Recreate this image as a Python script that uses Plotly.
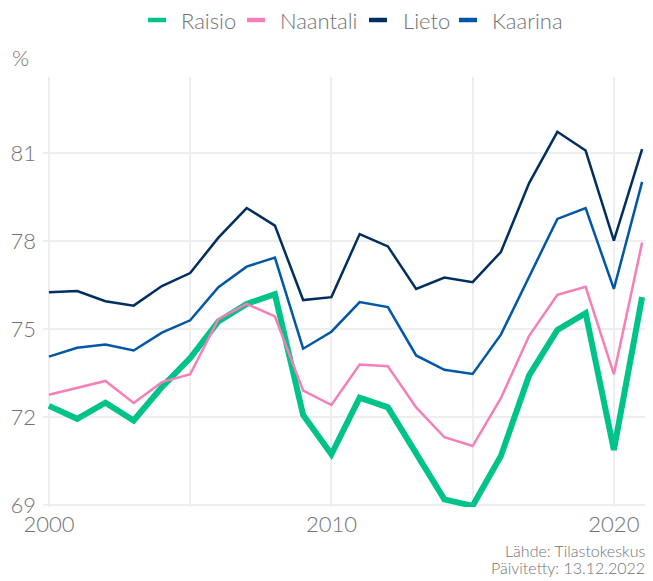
import plotly.graph_objects as go

# Data
years = list(range(2000, 2022))

raisio = [72.38, 71.94, 72.49, 71.88, 73.02, 74.01, 75.26, 75.86, 76.19, 72.07, 70.73,
          72.66, 72.33, 70.76, 69.19, 68.97, 70.67, 73.42, 74.97, 75.54, 70.88, 76.09]
naantali = [72.76, 73.00, 73.23, 72.48, 73.19, 73.46, 75.34, 75.86, 75.43, 72.90, 72.41,
            73.79, 73.73, 72.33, 71.31, 71.01, 72.64, 74.77, 76.17, 76.44, 73.46, 77.95]
lieto = [76.26, 76.30, 75.95, 75.80, 76.47, 76.91, 78.12, 79.13, 78.53, 75.99, 76.09,
         78.24, 77.82, 76.37, 76.76, 76.60, 77.63, 79.98, 81.73, 81.09, 78.02, 81.14]
kaarina = [74.06, 74.36, 74.47, 74.27, 74.88, 75.30, 76.43, 77.13, 77.44, 74.33, 74.91,
           75.92, 75.75, 74.10, 73.61, 73.47, 74.81, 76.79, 78.76, 79.13, 76.37, 80.02]

series = [
    ("Raisio", raisio, "#00c389", 6),
    ("Naantali", naantali, "#f47fb9", 2.5),
    ("Lieto", lieto, "#002f5f", 2.5),
    ("Kaarina", kaarina, "#0057a6", 2.5),
]

source_lines = ["Lähde: Tilastokeskus.", "Päivitetty: 13.12.2022."]

grey = "#727272"
grid = "#eeeeee"
font_family = "Lato, 'Open Sans', sans-serif"

# plot area geometry (figure px) used to place the hand-made legend
L, T, PW, PH = 35, 69, 609, 430


def px_x(x):
    return (x - L) / PW


def px_y(y):
    return (T + PH - y) / PH


fig = go.Figure()

# Lines
for name, values, color, width in series:
    fig.add_trace(
        go.Scatter(
            x=years,
            y=values,
            mode="lines",
            line=dict(color=color, width=width),
            name=name,
            showlegend=False,
        )
    )

# page body keeps an 8px margin, so the figure is 8px smaller than the window
fig.update_layout(
    width=645,
    height=573,
    margin=dict(l=L, r=1, t=T, b=74),
    plot_bgcolor="white",
    paper_bgcolor="white",
    font=dict(family=font_family, size=22, color=grey, weight=300),
    showlegend=False,
)

# legend row on top: short key line + label (a plotly legend would push the plot down)
key_starts = [140, 239, 361, 451]
label_starts = [171, 270, 393, 482]
for (name, values, color, width), k, t in zip(series, key_starts, label_starts):
    fig.add_shape(
        type="line",
        xref="paper",
        yref="paper",
        x0=px_x(k),
        x1=px_x(k + 18),
        y0=px_y(12),
        y1=px_y(12),
        line=dict(color=color, width=4.5),
    )
    fig.add_annotation(
        text=name,
        xref="paper",
        yref="paper",
        x=px_x(t),
        y=px_y(13),
        xanchor="left",
        yanchor="middle",
        showarrow=False,
        font=dict(size=22, color=grey, weight=300),
    )

# "%" unit label above the y axis
fig.add_annotation(
    text="%",
    xref="paper",
    yref="paper",
    x=px_x(2),
    y=px_y(50),
    xanchor="left",
    yanchor="middle",
    showarrow=False,
    font=dict(size=22, color=grey, weight=300),
)

# source caption, one annotation per line to keep the tight spacing
for i, line in enumerate(source_lines):
    fig.add_annotation(
        text=line,
        xref="paper",
        yref="paper",
        x=px_x(643),
        y=px_y(542 + i * 17),
        xanchor="right",
        yanchor="middle",
        showarrow=False,
        font=dict(size=16, color=grey, weight=300),
    )

fig.update_xaxes(
    range=[1999.79, 2021.35],
    tickvals=[2000, 2010, 2020],
    showgrid=True,
    gridcolor=grid,
    gridwidth=2,
    minor=dict(dtick=5, tick0=2000, showgrid=True, gridcolor=grid, gridwidth=2),
    zeroline=False,
    showline=False,
    ticks="",
    ticklabelstandoff=2,
)
fig.update_yaxes(
    range=[68.93, 83.6],
    tickvals=[69, 72, 75, 78, 81],
    showgrid=True,
    gridcolor=grid,
    gridwidth=2,
    zeroline=False,
    showline=False,
    ticks="",
    ticklabelstandoff=6,
)

fig.write_html("out.html")
